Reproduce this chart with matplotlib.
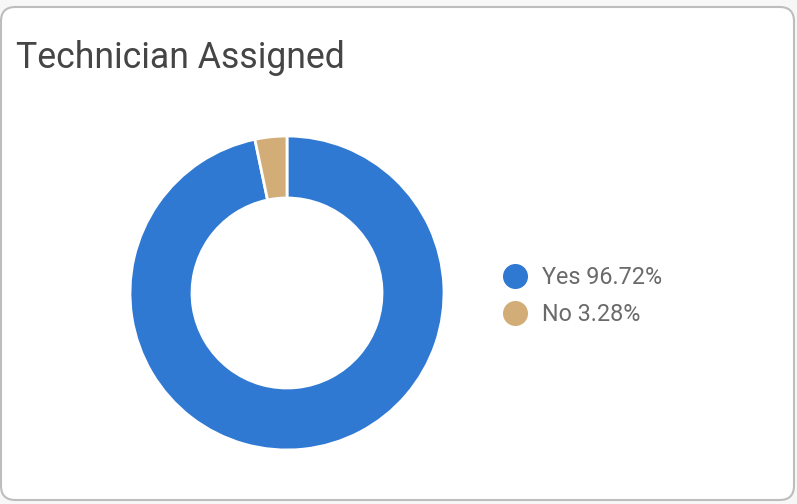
import matplotlib
matplotlib.use("Agg")
import matplotlib.pyplot as plt
from matplotlib.patches import FancyBboxPatch
from matplotlib.lines import Line2D

title = "Technician Assigned"
categories = ["Yes", "No"]
values = [96.72, 3.28]
colors = ["#3079D2", "#D2AD77"]

W, H = 797, 504
fig = plt.figure(figsize=(W / 100, H / 100), dpi=100)
fig.patch.set_facecolor("#F7F7F7")

# card
card = FancyBboxPatch((1 / W, 4 / H), 793 / W, 493 / H,
                      boxstyle="round,pad=0,rounding_size=0.018",
                      transform=fig.transFigure, facecolor="white",
                      edgecolor="#BDBDBD", linewidth=1.5, mutation_aspect=W / H,
                      zorder=-10)
fig.patches.append(card)

fig.text(16 / W, 1 - 68 / H, title, fontsize=25.7, color="#454545",
         family="Roboto", va="baseline", ha="left")

cx, cy, r = 287, 504 - 293, 160
ax = fig.add_axes([(cx - r) / W, (cy - r) / H, 2 * r / W, 2 * r / H])
ax.set_zorder(5)
ax.pie(values, colors=colors, startangle=90, counterclock=False, radius=157 / 160,
       wedgeprops=dict(width=62 / 160, edgecolor="white", linewidth=2))
ax.set_xlim(-1, 1)
ax.set_ylim(-1, 1)
ax.set_aspect("equal")
ax.axis("off")

handles = [Line2D([], [], marker="o", linestyle="", markersize=17, color=c) for c in colors]
labels = [f"{c} {v:.2f}%" for c, v in zip(categories, values)]
leg = fig.legend(handles, labels, loc="center left", bbox_to_anchor=(486 / W, 1 - 296 / H),
                 frameon=False, handletextpad=0.47, labelspacing=0.6,
                 handlelength=1.45, borderpad=0, prop={"family": "Roboto", "size": 16.8})
leg.set_zorder(6)
for t in leg.get_texts():
    t.set_color("#6A6A6A")

fig.savefig("out.png", dpi=100, facecolor=fig.get_facecolor())
